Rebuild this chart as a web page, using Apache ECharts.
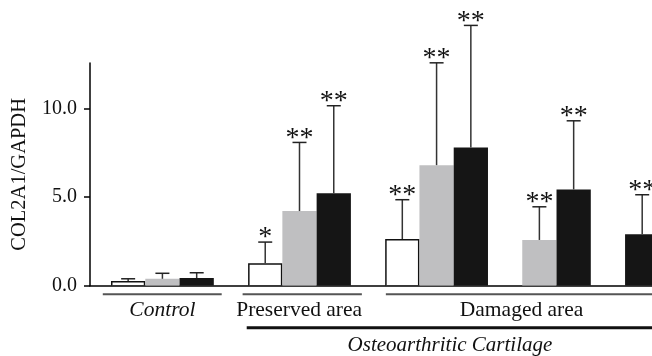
<!DOCTYPE html>
<html>
<head>
<meta charset="utf-8">
<script src="https://cdn.jsdelivr.net/npm/echarts@6/dist/echarts.min.js"></script>
<style>
  html, body { margin: 0; padding: 0; background: #fff; }
  #chart { width: 652px; height: 356px; }
</style>
</head>
<body>
<div id="chart"></div>
<script>
// ---- data (one entry per bar slot, left to right) ----
const categories = ['Control','Control','Control','',
  'Preserved area','Preserved area','Preserved area','',
  'Damaged area','Damaged area','Damaged area','Damaged area',
  'Damaged area','Damaged area','Damaged area','Damaged area'];
const barShade = ['white','grey','black',null,'white','grey','black',null,
  'white','grey','black',null,'grey','black',null,'black'];
const meanValues  = [0.26,0.39,0.43,null,1.26,4.21,5.21,null,2.63,6.80,7.80,null,2.58,5.43,null,2.90];
const upperValues = [0.39,0.70,0.73,null,2.46,8.08,10.15,null,4.85,12.57,14.68,null,4.45,9.30,null,5.13];
const significance = ['','','','','*','**','**','','**','**','**','','**','**','','**'];
const yTicks = [0, 5, 10];
const yTitle = 'COL2A1/GAPDH';

// group annotations (in slot units)
const groupSpans = [
  { label: 'Control', italic: true, from: -0.74, to: 2.73, at: 1.0 },
  { label: 'Preserved area', italic: false, from: 3.34, to: 6.82, at: 4.99 },
  { label: 'Damaged area', italic: false, from: 7.52, to: 17, at: 11.48 }
];
const tissueSpan = { label: 'Osteoarthritic Cartilage', from: 3.46, to: 17, at: 9.39 };

const FONT = 'Liberation Serif';
const shadeStyle = {
  white: { fill: '#ffffff', stroke: '#111111', lineWidth: 1.5 },
  grey:  { fill: '#bfbfc1', stroke: null, lineWidth: 0 },
  black: { fill: '#151515', stroke: null, lineWidth: 0 }
};

const barData = [];
for (let k = 0; k < categories.length; k++) {
  if (meanValues[k] != null) barData.push([k, meanValues[k], upperValues[k]]);
}

const chart = echarts.init(document.getElementById('chart'), null, { renderer: 'canvas' });

function renderBar(params, api) {
  const k = api.value(0), v = api.value(1);
  const st = shadeStyle[barShade[k]];
  const p0 = api.coord([k - 0.5, v]);
  const p1 = api.coord([k + 0.5, 0]);
  const inset = st.lineWidth / 2;
  return {
    type: 'rect',
    shape: { x: p0[0] + inset, y: p0[1] + inset, width: p1[0] - p0[0] - 2 * inset, height: p1[1] - p0[1] - inset },
    style: { fill: st.fill, stroke: st.stroke, lineWidth: st.lineWidth }
  };
}

function renderError(params, api) {
  const k = api.value(0), v = api.value(1), u = api.value(2);
  const pm = api.coord([k, v]);
  const pu = api.coord([k, u]);
  const half = 7;
  const children = [
    { type: 'line', shape: { x1: pm[0], y1: pm[1], x2: pu[0], y2: pu[1] }, style: { stroke: '#333', lineWidth: 1.5 } },
    { type: 'line', shape: { x1: pu[0] - half, y1: pu[1], x2: pu[0] + half, y2: pu[1] }, style: { stroke: '#222', lineWidth: 1.5 } }
  ];
  if (significance[k]) {
    children.push({
      type: 'text',
      x: pu[0], y: pu[1] + 10,
      style: { text: significance[k], font: '28px "' + FONT + '"', fill: '#111', align: 'center', verticalAlign: 'bottom' }
    });
  }
  return { type: 'group', children: children };
}

chart.setOption({
  animation: false,
  backgroundColor: '#fff',
  grid: { left: 90, right: 0, top: 63, bottom: 70.3, containLabel: false },
  xAxis: {
    type: 'value',
    min: -1.113, max: 15.286,
    axisLine: { show: true, onZero: false, lineStyle: { color: '#000', width: 1.5 } },
    axisTick: { show: false }, axisLabel: { show: false }, splitLine: { show: false }
  },
  yAxis: {
    type: 'value',
    min: 0, max: 12.56,
    name: yTitle,
    nameLocation: 'middle',
    nameGap: 60,
    nameTextStyle: { fontFamily: FONT, fontSize: 20.5, color: '#111' },
    axisLine: { show: true, onZero: false, lineStyle: { color: '#000', width: 1.5 } },
    axisTick: { show: true, inside: false, length: 6, customValues: yTicks, lineStyle: { color: '#000', width: 1.5 } },
    axisLabel: { customValues: yTicks, margin: 13, fontFamily: FONT, fontSize: 20, color: '#111',
      formatter: function (v) { return v.toFixed(1); } },
    splitLine: { show: false }
  },
  series: [
    { type: 'custom', name: 'bars', renderItem: renderBar, data: barData, clip: true, z: 2 },
    { type: 'custom', name: 'errors', renderItem: renderError, data: barData, clip: false, z: 3 }
  ]
});

// group annotations positioned through the x scale
const base = chart.convertToPixel({ yAxisIndex: 0 }, 0);
const px = v => Math.min(chart.convertToPixel({ xAxisIndex: 0 }, v), 660);
const graphics = [];
groupSpans.forEach(g => {
  graphics.push({ type: 'line', shape: { x1: px(g.from), y1: base + 8.5, x2: px(g.to), y2: base + 8.5 },
    style: { stroke: '#555', lineWidth: 2 }, silent: true });
  graphics.push({ type: 'text', x: px(g.at), y: base + 25,
    style: { text: g.label, font: (g.italic ? 'italic ' : '') + '21.5px "' + FONT + '"', fill: '#111',
      align: 'center', verticalAlign: 'middle' }, silent: true });
});
graphics.push({ type: 'line', shape: { x1: px(tissueSpan.from), y1: base + 42, x2: px(tissueSpan.to), y2: base + 42 },
  style: { stroke: '#111', lineWidth: 3 }, silent: true });
graphics.push({ type: 'text', x: px(tissueSpan.at), y: base + 59.5,
  style: { text: tissueSpan.label, font: 'italic 21px "' + FONT + '"', fill: '#111',
    align: 'center', verticalAlign: 'middle' }, silent: true });
chart.setOption({ graphic: graphics });
</script>
</body>
</html>
